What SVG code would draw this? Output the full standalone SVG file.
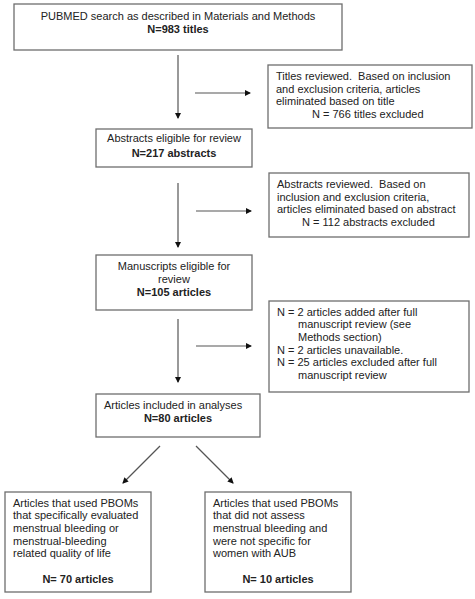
<svg xmlns="http://www.w3.org/2000/svg" width="475" height="599" viewBox="0 0 475 599">
<defs>
<marker id="ah" markerWidth="6" markerHeight="6" refX="5" refY="3" orient="auto" markerUnits="userSpaceOnUse">
<path d="M0,0 L6,3 L0,6 Z" fill="#111"/>
</marker>
<style>
.box{fill:#fff;stroke:#6e6e6e;stroke-width:1.3}
.ln{stroke:#555;stroke-width:1.2;fill:none;marker-end:url(#ah)}
text{font-family:"Liberation Sans",Arial,sans-serif;font-size:11px;fill:#222;white-space:pre}
.b{font-weight:bold}
.c{text-anchor:middle}
</style>
</defs>
<rect width="475" height="599" fill="#fff"/>
<g id="n1">
<rect class="box" x="14" y="4" width="328" height="46"/>
<text class="c" x="178" y="19.5">PUBMED search as described in Materials and Methods</text>
<text class="c b" x="178" y="33">N=983 titles</text>
</g>
<g id="s1">
<rect class="box" x="268" y="65" width="204" height="63"/>
<text x="276" y="79.5" xml:space="preserve">Titles reviewed.  Based on inclusion</text>
<text x="276" y="92.5">and exclusion criteria, articles</text>
<text x="276" y="105">eliminated based on title</text>
<text x="312" y="117.5">N = 766 titles excluded</text>
</g>
<g id="n2">
<rect class="box" x="96" y="129" width="156" height="38"/>
<text class="c" x="174" y="141.5">Abstracts eligible for review</text>
<text class="c b" x="174" y="156.5">N=217 abstracts</text>
</g>
<g id="s2">
<rect class="box" x="269" y="173" width="200" height="64"/>
<text x="277" y="188" xml:space="preserve">Abstracts reviewed.  Based on</text>
<text x="277" y="200.5">inclusion and exclusion criteria,</text>
<text x="277" y="213">articles eliminated based on abstract</text>
<text x="302" y="225.5">N = 112 abstracts excluded</text>
</g>
<g id="n3">
<rect class="box" x="96" y="255" width="156" height="55"/>
<text class="c" x="174" y="269.5">Manuscripts eligible for</text>
<text class="c" x="174" y="282.5">review</text>
<text class="c b" x="174" y="295.5">N=105 articles</text>
</g>
<g id="s3">
<rect class="box" x="269" y="301" width="200" height="91"/>
<text x="277" y="315.5">N = 2 articles added after full</text>
<text x="298" y="328">manuscript review (see</text>
<text x="298" y="340.5">Methods section)</text>
<text x="277" y="353.5">N = 2 articles unavailable.</text>
<text x="277" y="366">N = 25 articles excluded after full</text>
<text x="298" y="378.5">manuscript review</text>
</g>
<g id="n4">
<rect class="box" x="96" y="394" width="164" height="43"/>
<text x="104" y="408.5">Articles included in analyses</text>
<text class="c b" x="178" y="421.5">N=80 articles</text>
</g>
<g id="n5">
<rect class="box" x="5" y="492" width="146" height="100"/>
<text x="13" y="506.5">Articles that used PBOMs</text>
<text x="13" y="519">that specifically evaluated</text>
<text x="13" y="531.5">menstrual bleeding or</text>
<text x="13" y="544.5">menstrual-bleeding</text>
<text x="13" y="557">related quality of life</text>
<text class="c b" x="78" y="582.5">N= 70 articles</text>
</g>
<g id="n6">
<rect class="box" x="205" y="492" width="146" height="100"/>
<text x="213" y="506.5">Articles that used PBOMs</text>
<text x="213" y="519">that did not assess</text>
<text x="213" y="531.5">menstrual bleeding and</text>
<text x="213" y="544.5">were not specific for</text>
<text x="213" y="557">women with AUB</text>
<text class="c b" x="278" y="582.5">N= 10 articles</text>
</g>
<g id="connectors">
<line class="ln" x1="178" y1="55" x2="178" y2="118"/>
<line class="ln" x1="195" y1="93" x2="250" y2="93"/>
<line class="ln" x1="178" y1="183" x2="178" y2="247"/>
<line class="ln" x1="196" y1="211" x2="251" y2="211"/>
<line class="ln" x1="178" y1="319" x2="178" y2="382"/>
<line class="ln" x1="196" y1="346" x2="251" y2="346"/>
<line class="ln" x1="160" y1="446" x2="123" y2="483"/>
<line class="ln" x1="196" y1="446" x2="233" y2="483"/>
</g>
</svg>
